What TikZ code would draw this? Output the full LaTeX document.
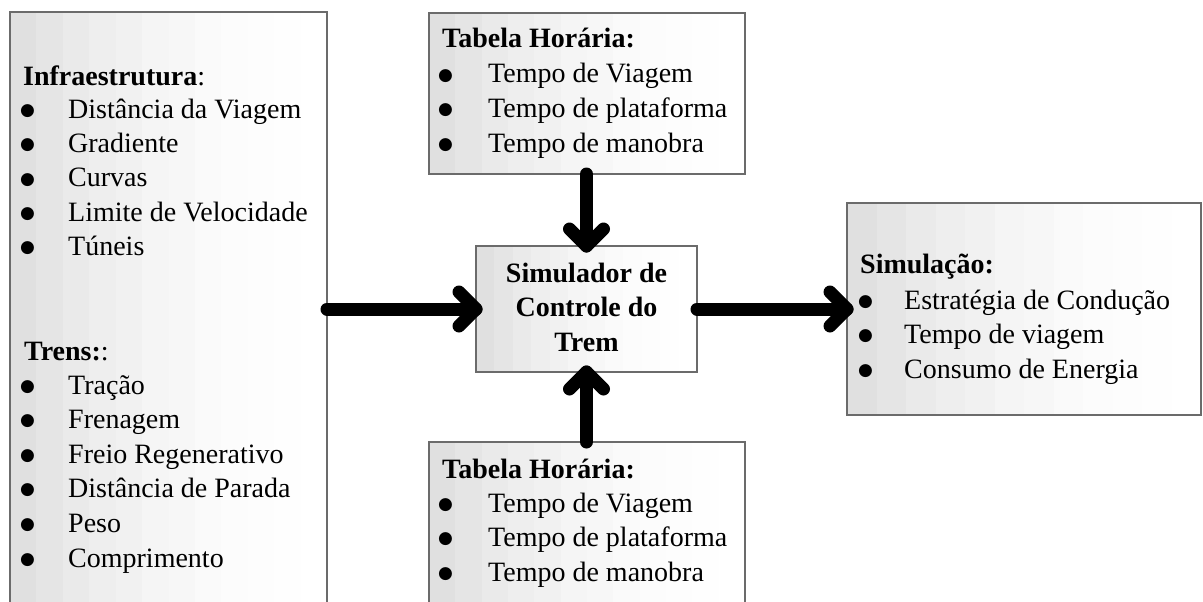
\documentclass[tikz,border=0pt]{standalone}
\usepackage{fontspec}
\setmainfont{Liberation Serif}
\newfontfamily\symfont{DejaVu Sans}
\usetikzlibrary{calc}
\newcommand\bul[1]{\makebox[#1pt][l]{\raisebox{2.9pt}{\symfont\fontsize{17}{17}\selectfont ●}}}
\newcommand\gradfill[1]{%
  \foreach \k/\c in {0/12,2/10,4/8.3,6/6.8,8/5.3,10/4.1,12/3,14/2.1,16/1.3,18/0.75,20/0.33,22/0.1}
    \fill[black!\c] ($(#1.north west)!\k/24!(#1.north east)$) rectangle (#1.south east);
  \draw[border] (#1.north west) rectangle (#1.south east);}
\tikzset{
  panel/.style={inner sep=0pt, outer sep=0pt, anchor=north west},
  border/.style={draw=black!58, line width=1.8pt},
  txt/.style={anchor=base west, inner sep=0pt, font=\fontsize{28}{34}\selectfont},
  ctxt/.style={anchor=base, inner sep=0pt, font=\fontsize{28}{34}\selectfont\bfseries},
  flow/.style={line width=13pt, line cap=round, line join=round, draw=black},
}
\begin{document}
\begin{tikzpicture}[x=1pt,y=-1pt]
\useasboundingbox (0,0) rectangle (1203,602);
\begin{scope}
\clip (0,0) rectangle (1203,602);
% boxes
\node[panel, minimum width=317pt, minimum height=640pt] (infra) at (10,12) {};
\node[panel, minimum width=316pt, minimum height=161pt] (tbox) at (429,13) {};
\node[panel, minimum width=221pt, minimum height=126pt] (cbox) at (476,246) {};
\node[panel, minimum width=316pt, minimum height=200pt] (bbox) at (429,442) {};
\node[panel, minimum width=354pt, minimum height=212pt] (sim) at (847,203) {};
\gradfill{infra}
\gradfill{tbox}
\gradfill{cbox}
\gradfill{bbox}
\gradfill{sim}
% connectors
\draw[flow] (infra.east |- cbox.west) -- (cbox.west);
\draw[flow] ($(cbox.west)+(-17,-17)$) -- (cbox.west) -- ($(cbox.west)+(-17,17)$);
\draw[flow] (cbox.east) -- (sim.west |- cbox.east);
\draw[flow] ($(sim.west |- cbox.east)+(-17,-17)$) -- (sim.west |- cbox.east) -- ($(sim.west |- cbox.east)+(-17,17)$);
\draw[flow] (cbox.north |- tbox.south) -- (cbox.north);
\draw[flow] ($(cbox.north)+(-17,-17)$) -- (cbox.north) -- ($(cbox.north)+(17,-17)$);
\draw[flow] (cbox.south |- bbox.north) -- (cbox.south);
\draw[flow] ($(cbox.south)+(-17,17)$) -- (cbox.south) -- ($(cbox.south)+(17,17)$);
% left box text
\node[txt] (infrah) at (23,85) {\textbf{Infraestrutura}:};
\foreach \t [count=\i] in {Distância da Viagem,Gradiente,Curvas,Limite de Velocidade,Túneis}
  \node[txt] (infra\i) at (20,{84.3+34.2*\i}) {\bul{48}\t};
\node[txt] (trensh) at (24,360) {\textbf{Trens:}:};
\foreach \t [count=\i] in {Tração,Frenagem,Freio Regenerativo,Distância de Parada,Peso,Comprimento}
  \node[txt] (trens\i) at (20,{359.4+34.6*\i}) {\bul{48}\t};
% top box text
\node[txt] (th) at (442,48) {\textbf{Tabela Horária:}};
\foreach \t [count=\i] in {Tempo de Viagem,Tempo de plataforma,Tempo de manobra}
  \node[txt] (t\i) at (438,{48.3+34.7*\i}) {\bul{50}\t};
% bottom box text
\node[txt] (bh) at (442,478) {\textbf{Tabela Horária:}};
\foreach \t [count=\i] in {Tempo de Viagem,Tempo de plataforma,Tempo de manobra}
  \node[txt] (b\i) at (438,{477.5+34.5*\i}) {\bul{50}\t};
% centre text
\node[ctxt] (c1) at (586.5,282) {Simulador de};
\node[ctxt] (c2) at (586.5,316.5) {Controle do};
\node[ctxt] (c3) at (586.5,351) {Trem};
% right box text
\node[txt] (sh) at (860,273) {\textbf{Simulação:}};
\foreach \t [count=\i] in {Estratégia de Condução,Tempo de viagem,Consumo de Energia}
  \node[txt] (s\i) at (858,{274.5+34.5*\i}) {\bul{46}\t};
\end{scope}
\end{tikzpicture}
\end{document}
